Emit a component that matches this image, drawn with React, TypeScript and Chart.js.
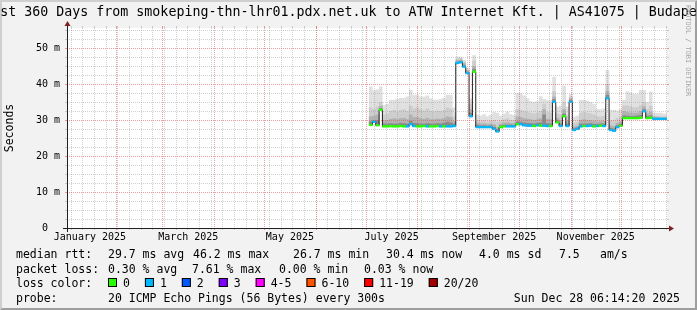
import React, { useEffect, useRef } from 'react';
import { Chart, registerables } from 'chart.js';

Chart.register(...registerables);

// ---------- data (day of year 2025, bucket centres) ----------
const days = [
  184, 186, 188, 190, 192, 194, 196, 198, 200, 202,
  204, 206, 208, 210, 212, 214, 216, 218, 220, 222,
  224, 226, 228, 230, 232, 234, 236, 238, 240, 242,
  244, 246, 248, 250, 252, 254, 256, 258, 260, 262,
  264, 266, 268, 270, 272, 274, 276, 278, 280, 282,
  284, 286, 288, 290, 292, 294, 296, 298, 300, 302,
  304, 306, 308, 310, 312, 314, 316, 318, 320, 322,
  324, 326, 328, 330, 332, 334, 336, 338, 340, 342,
  344, 346, 348, 350, 352, 354, 356, 358, 360, 362,
];

// median RTT in ms
const medianRtt = [
  28.6, 29.5, 28.5, 32.8, 28.2, 28.2, 28.3, 28.2, 28.2, 28.3,
  28.2, 28.2, 28.8, 28.3, 28.2, 28.2, 28.3, 28.2, 28.2, 28.2,
  28.3, 28.2, 28.2, 28.2, 28.2, 28.3, 45.8, 46.0, 44.8, 43.0,
  31.0, 43.4, 28.0, 28.0, 28.0, 28.0, 28.0, 27.5, 26.8, 28.0,
  28.2, 28.2, 28.2, 28.2, 28.8, 28.8, 28.5, 28.4, 28.4, 28.3,
  28.5, 28.4, 28.4, 28.3, 28.3, 35.0, 29.3, 28.3, 31.0, 28.3,
  35.0, 27.2, 27.5, 28.2, 28.3, 28.3, 28.4, 28.2, 28.3, 28.4,
  28.3, 36.0, 27.2, 27.0, 28.0, 28.4, 30.5, 30.5, 30.5, 30.5,
  30.5, 30.6, 32.4, 30.5, 30.6, 30.3, 30.3, 30.3, 30.3, 30.3,
];

// lost pings out of 20
const lossCount = [
  0, 1, 0, 0, 0, 0, 0, 0, 0, 0,
  0, 1, 1, 1, 0, 0, 0, 1, 0, 0,
  0, 1, 0, 1, 1, 1, 1, 1, 1, 1,
  1, 0, 1, 1, 1, 1, 1, 1, 1, 0,
  0, 1, 1, 1, 0, 1, 1, 1, 1, 0,
  1, 0, 1, 1, 0, 1, 0, 1, 0, 1,
  1, 1, 1, 1, 0, 1, 1, 0, 1, 0,
  1, 1, 1, 1, 1, 0, 0, 0, 0, 0,
  0, 0, 1, 0, 0, 1, 1, 1, 1, 1,
];

// smoke: upper edges of the grey layers (ms)
const smokeTop = [
  39.3, 38.3, 38.5, 39.3, 34.2, 34.5, 35.6, 35.6, 35.8, 36.1,
  36.1, 36.5, 38.4, 37.0, 37.0, 36.5, 36.5, 36.8, 36.0, 35.6,
  35.6, 35.8, 36.1, 37.0, 37.0, 33.5, 47.6, 47.6, 46.7, 44.5,
  36.0, 48.0, 31.5, 31.2, 31.6, 31.0, 31.5, 32.2, 32.0, 31.2,
  31.8, 32.3, 31.6, 31.4, 37.5, 37.4, 36.8, 36.0, 35.2, 35.0,
  35.2, 36.6, 35.8, 35.5, 35.5, 42.0, 33.7, 34.0, 39.5, 33.7,
  37.2, 30.9, 31.2, 35.6, 35.6, 35.4, 35.0, 34.4, 33.0, 33.0,
  33.2, 43.9, 32.8, 32.8, 32.6, 33.0, 35.6, 37.9, 37.6, 37.2,
  37.2, 38.3, 38.3, 35.0, 37.9, 32.0, 32.0, 32.0, 31.8, 31.8,
];
const smokeUpper = [
  33.5, 33.0, 33.8, 35.0, 31.5, 31.8, 32.5, 32.8, 32.3, 32.8,
  33.0, 32.5, 34.0, 33.2, 33.5, 33.0, 32.6, 33.2, 32.5, 32.4,
  32.6, 32.5, 32.8, 33.5, 33.2, 31.0, 47.0, 47.2, 46.2, 44.0,
  34.5, 46.5, 30.0, 29.8, 30.0, 29.6, 29.8, 30.0, 29.5, 29.8,
  30.2, 30.5, 30.0, 29.9, 33.0, 32.8, 32.5, 32.2, 32.0, 31.8,
  32.0, 32.5, 34.5, 32.2, 32.0, 38.0, 31.8, 31.5, 35.0, 31.3,
  36.5, 29.2, 29.4, 32.0, 32.2, 32.0, 31.8, 31.5, 31.0, 31.0,
  31.2, 40.0, 30.0, 29.8, 30.5, 31.0, 34.0, 34.0, 33.8, 33.5,
  33.6, 34.2, 35.0, 33.0, 34.0, 31.2, 31.2, 31.0, 31.0, 31.0,
];
const smokeMiddle = [
  31.0, 31.2, 31.5, 34.0, 30.0, 30.0, 30.3, 30.5, 30.2, 30.5,
  30.6, 30.2, 31.5, 30.8, 30.8, 30.5, 30.3, 30.6, 30.2, 30.2,
  30.4, 30.3, 30.5, 31.0, 30.8, 29.8, 46.6, 46.8, 45.8, 43.7,
  33.0, 45.0, 29.2, 29.0, 29.1, 28.9, 29.0, 28.8, 28.0, 29.0,
  29.3, 29.4, 29.2, 29.1, 31.0, 30.8, 30.5, 30.3, 30.2, 30.0,
  30.2, 30.5, 33.0, 30.3, 30.2, 36.5, 30.6, 30.0, 33.0, 29.8,
  36.0, 28.2, 28.4, 30.0, 30.2, 30.0, 30.0, 29.8, 29.6, 29.7,
  29.8, 38.0, 28.5, 28.3, 29.2, 29.6, 32.5, 32.2, 32.0, 32.0,
  32.0, 32.5, 33.8, 31.8, 32.3, 30.8, 30.8, 30.7, 30.7, 30.7,
];
const smokeInner = [
  29.6, 30.0, 30.0, 33.3, 29.0, 29.0, 29.1, 29.0, 29.0, 29.2,
  29.1, 29.0, 29.8, 29.2, 29.1, 29.0, 29.0, 29.1, 29.0, 29.0,
  29.1, 29.0, 29.2, 29.5, 29.3, 29.0, 46.2, 46.4, 45.3, 43.4,
  32.0, 44.2, 28.6, 28.5, 28.5, 28.4, 28.5, 28.1, 27.4, 28.5,
  28.7, 28.7, 28.7, 28.6, 29.6, 29.5, 29.3, 29.2, 29.1, 29.0,
  29.2, 29.3, 31.5, 29.1, 29.0, 35.8, 29.9, 29.0, 31.8, 29.0,
  35.6, 27.7, 27.9, 29.0, 29.0, 29.0, 29.1, 28.9, 28.9, 29.0,
  29.0, 37.0, 27.8, 27.6, 28.5, 29.0, 31.3, 31.2, 31.1, 31.1,
  31.2, 31.4, 33.0, 31.1, 31.3, 30.6, 30.6, 30.5, 30.5, 30.5,
];

// axes
const yTickValues = [0, 10, 20, 30, 40, 50];
const monthLabels = ['January 2025', 'March 2025', 'May 2025', 'July 2025', 'September 2025', 'November 2025'];
const monthLabelDays = [15.5, 74.5, 135.5, 196.5, 258, 319];
const monthStartDays = [31, 59, 90, 120, 151, 181, 212, 243, 273, 304, 334];
const firstSunday = 4;

// legend
const lossLegendLabels = ['0', '1', '2', '3', '4-5', '6-10', '11-19', '20/20'];
const lossLegendFrom = [0, 1, 2, 3, 4, 6, 11, 20];
const lossLegendColors = ['#26ff00', '#00b8ff', '#0059ff', '#7e00ff', '#ff00ff', '#ff5500', '#ff0000', '#a10000'];
const rttStats = ['29.7 ms avg', '46.2 ms max', '26.7 ms min', '30.4 ms now', '4.0 ms sd', '7.5', 'am/s'];
const lossStats = ['0.30 % avg', '7.61 % max', '0.00 % min', '0.03 % now'];
const probeText = '20 ICMP Echo Pings (56 Bytes) every 300s';
const dateText = 'Sun Dec 28 06:14:20 2025';
const titleText = 'Last 360 Days from smokeping-thn-lhr01.pdx.net.uk to ATW Internet Kft. | AS41075 | Budapest';
const watermarkText = 'RRDTOOL / TOBI OETIKER';

const X_MIN = 1.75;
const X_MAX = 361.75;
const Y_MAX = 200 / 3.6;

const MONO = "'DejaVu Sans Mono'";

function lossColor(n: number) {
  let c = lossLegendColors[0];
  for (let i = 0; i < lossLegendFrom.length; i++) if (n >= lossLegendFrom[i]) c = lossLegendColors[i];
  return c;
}

const rrdPlugin = {
  id: 'rrdLook',
  beforeDraw(chart: any) {
    const { ctx, width, height, chartArea: a } = chart;
    ctx.save();
    ctx.fillStyle = '#f2f2f2';
    ctx.fillRect(0, 0, width, height);
    ctx.fillStyle = '#cfcfcf';
    ctx.beginPath();
    ctx.moveTo(0, 0); ctx.lineTo(0, height); ctx.lineTo(2, height - 2); ctx.lineTo(2, 2);
    ctx.lineTo(width - 2, 2); ctx.lineTo(width, 0); ctx.closePath(); ctx.fill();
    ctx.fillStyle = '#9e9e9e';
    ctx.beginPath();
    ctx.moveTo(0, height); ctx.lineTo(width, height); ctx.lineTo(width, 0); ctx.lineTo(width - 2, 2);
    ctx.lineTo(width - 2, height - 2); ctx.lineTo(2, height - 2); ctx.closePath(); ctx.fill();
    ctx.fillStyle = '#ffffff';
    ctx.fillRect(a.left, a.top, a.right - a.left, a.bottom - a.top);
    ctx.restore();
  },
  afterDatasetsDraw(chart: any) {
    const { ctx, chartArea: a, scales } = chart;
    const xs = scales.x, ys = scales.y;
    const minor = 'rgba(150,150,150,0.45)';
    const major = 'rgba(222,80,80,0.55)';
    ctx.save();
    ctx.lineWidth = 1;
    const vline = (d: number, color: string) => {
      const px = Math.round(xs.getPixelForValue(d)) + 0.5;
      if (px <= a.left + 1 || px >= a.right) return;
      ctx.strokeStyle = color;
      ctx.setLineDash([]);
      ctx.beginPath();
      ctx.moveTo(px, a.top - 2); ctx.lineTo(px, a.top);
      ctx.moveTo(px, a.bottom); ctx.lineTo(px, a.bottom + 2);
      ctx.stroke();
      ctx.setLineDash([1, 1]);
      ctx.beginPath(); ctx.moveTo(px, a.top); ctx.lineTo(px, a.bottom); ctx.stroke();
    };
    const hline = (v: number, color: string) => {
      const py = Math.round(ys.getPixelForValue(v)) + 0.5;
      if (py >= a.bottom || py < a.top) return;
      ctx.strokeStyle = color;
      ctx.setLineDash([]);
      ctx.beginPath();
      ctx.moveTo(a.left - 2, py); ctx.lineTo(a.left, py);
      ctx.moveTo(a.right, py); ctx.lineTo(a.right + 2, py);
      ctx.stroke();
      ctx.setLineDash([1, 1]);
      ctx.beginPath(); ctx.moveTo(a.left, py); ctx.lineTo(a.right, py); ctx.stroke();
    };
    for (let d = firstSunday; d < X_MAX; d += 7) vline(d, minor);
    for (let v = 2.5; v < Y_MAX; v += 2.5) if (Math.abs(v % 10) > 0.01) hline(v, minor);
    monthStartDays.forEach((d) => vline(d, major));
    yTickValues.forEach((v) => { if (v > 0) hline(v, major); });

    // axes
    ctx.setLineDash([]);
    ctx.strokeStyle = '#1f1f1f';
    const x0 = a.left + 0.5;
    const y0 = a.bottom + 0.5;
    ctx.beginPath();
    ctx.moveTo(a.left - 4, y0); ctx.lineTo(a.right + 4, y0);
    ctx.moveTo(x0, a.bottom + 4); ctx.lineTo(x0, a.top - 4);
    ctx.stroke();
    ctx.fillStyle = '#801f1f';
    ctx.beginPath();
    ctx.moveTo(a.right + 2, y0 - 3); ctx.lineTo(a.right + 2, y0 + 3); ctx.lineTo(a.right + 7, y0); ctx.closePath(); ctx.fill();
    ctx.beginPath();
    ctx.moveTo(x0 - 3, a.top - 2); ctx.lineTo(x0 + 3, a.top - 2); ctx.lineTo(x0, a.top - 7); ctx.closePath(); ctx.fill();
    ctx.restore();
  },
  afterDraw(chart: any) {
    const { ctx, width } = chart;
    ctx.save();
    ctx.fillStyle = '#000';
    ctx.textBaseline = 'alphabetic';
    // title
    ctx.font = `13.3px ${MONO}`;
    ctx.textAlign = 'center';
    ctx.fillText(titleText, width / 2, 16);

    // legend
    ctx.font = `11.5px ${MONO}`;
    ctx.textAlign = 'left';
    const rows = [258, 272.5, 287, 301.5];
    ctx.fillText('median rtt:', 16, rows[0]);
    const rttX = [108, 193, 293, 386, 479, 559, 600];
    rttStats.forEach((t, i) => ctx.fillText(t, rttX[i], rows[0]));
    ctx.fillText('packet loss:', 16, rows[1]);
    const lossX = [108, 192, 279, 364];
    lossStats.forEach((t, i) => ctx.fillText(t, lossX[i], rows[1]));
    ctx.fillText('loss color:', 16, rows[2]);
    let bx = 108;
    lossLegendLabels.forEach((lab, i) => {
      ctx.fillStyle = lossLegendColors[i];
      ctx.fillRect(bx, rows[2] - 9, 9, 9);
      ctx.strokeStyle = '#000';
      ctx.lineWidth = 1;
      ctx.strokeRect(bx + 0.5, rows[2] - 8.5, 8, 8);
      ctx.fillStyle = '#000';
      ctx.fillText(lab, bx + 15, rows[2]);
      bx = bx + 15 + ctx.measureText(lab).width + 15;
    });
    ctx.fillText('probe:', 16, rows[3]);
    ctx.fillText(probeText, 108, rows[3]);
    ctx.textAlign = 'right';
    ctx.fillText(dateText, 680, rows[3]);

    // watermark
    ctx.translate(688, 5);
    ctx.rotate(Math.PI / 2);
    ctx.font = `6.9px ${MONO}`;
    ctx.textAlign = 'left';
    ctx.textBaseline = 'middle';
    ctx.fillStyle = '#a6a6a6';
    ctx.fillText(watermarkText, 0, 0);
    ctx.restore();
  },
};

export default function App() {
  const ref = useRef<HTMLCanvasElement>(null);

  useEffect(() => {
    document.body.style.margin = '0';
    const canvas = ref.current;
    if (!canvas) return;

    const band = (arr: number[]) => days.map((d, i) => ({ x: d, y: [medianRtt[i], arr[i]] }));
    const barCommon = {
      type: 'bar' as const,
      grouped: false,
      barPercentage: 1.12,
      categoryPercentage: 1,
      borderWidth: 0,
      clip: 0,
    };

    const chart = new Chart(canvas, {
      type: 'bar',
      data: {
        datasets: [
          {
            ...barCommon,
            label: 'loss',
            data: days.map((d, i) => ({ x: d, y: [medianRtt[i] - 0.3, medianRtt[i] + 0.35] })),
            backgroundColor: lossCount.map(lossColor),
          } as any,
          {
            type: 'line',
            label: 'median',
            data: days.map((d, i) => ({ x: d, y: medianRtt[i] })),
            stepped: 'middle',
            borderColor: '#202020',
            borderWidth: 1,
            pointRadius: 0,
            fill: false,
          } as any,
          { ...barCommon, label: 'inner', data: band(smokeInner), backgroundColor: '#8a8a8a' } as any,
          { ...barCommon, label: 'middle', data: band(smokeMiddle), backgroundColor: '#b2b2b2' } as any,
          { ...barCommon, label: 'upper', data: band(smokeUpper), backgroundColor: '#cdcdcd' } as any,
          { ...barCommon, label: 'top', data: band(smokeTop), backgroundColor: '#e0e0e0' } as any,
        ],
      },
      options: {
        animation: false,
        responsive: false,
        devicePixelRatio: 1,
        events: [],
        layout: { padding: { left: 0, right: 30, top: 28, bottom: 62 } },
        plugins: { legend: { display: false }, tooltip: { enabled: false }, title: { display: false } },
        scales: {
          x: {
            type: 'linear',
            min: X_MIN,
            max: X_MAX,
            offset: false,
            grid: { display: false, drawTicks: false },
            border: { display: false },
            afterBuildTicks: (s: any) => { s.ticks = monthLabelDays.map((v) => ({ value: v })); },
            afterFit: (s: any) => { s.height = 20; },
            ticks: {
              autoSkip: false,
              maxRotation: 0,
              minRotation: 0,
              padding: 3,
              color: '#000',
              font: { family: MONO, size: 10 },
              callback: (_v: any, i: number) => monthLabels[i],
            },
          },
          y: {
            type: 'linear',
            min: 0,
            max: Y_MAX,
            grid: { display: false, drawTicks: false },
            border: { display: false },
            afterBuildTicks: (s: any) => { s.ticks = yTickValues.map((v) => ({ value: v })); },
            afterFit: (s: any) => { s.width = 67; },
            title: {
              display: true,
              text: 'Seconds',
              color: '#000',
              font: { family: MONO, size: 11.5 },
              padding: { top: 3, bottom: 0 },
            },
            ticks: {
              padding: 7,
              color: '#000',
              font: { family: MONO, size: 10 },
              callback: (v: any) => (v === 0 ? '0  ' : `${v} m`),
            },
          },
        },
      } as any,
      plugins: [rrdPlugin],
    });

    return () => chart.destroy();
  }, []);

  return <canvas ref={ref} width={697} height={310} style={{ display: 'block', width: 697, height: 310 }} />;
}
